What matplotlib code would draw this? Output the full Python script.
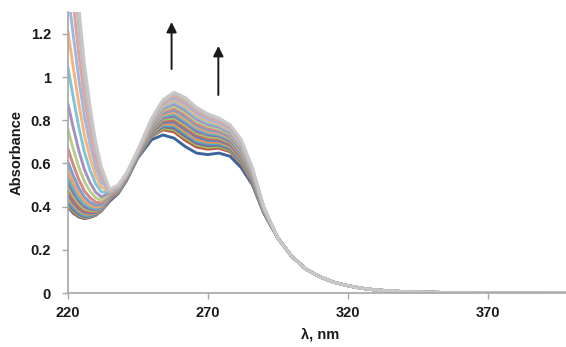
import matplotlib
matplotlib.use("Agg")
import matplotlib.pyplot as plt
import numpy as np

plt.rcParams["font.family"] = ["Liberation Sans", "DejaVu Sans"]

# Wavelength grid (nm) for the region where the spectra differ
wl_main = [220, 222, 224, 226, 228, 230, 232, 235, 238, 241, 245, 250,
           254, 258, 262, 266, 270, 274, 278, 282, 286, 290]
# Long-wavelength tail, common to every spectrum
wl_tail = [295, 300, 305, 310, 315, 320, 325, 330, 340, 350, 360, 400]
abs_tail = [0.255, 0.17, 0.112, 0.075, 0.05, 0.034, 0.022, 0.014,
            0.006, 0.003, 0.0015, 0.0]

# One row per recorded spectrum, first (lowest) to last (highest)
spectra = [
    [0.400, 0.370, 0.352, 0.345, 0.350, 0.360, 0.380, 0.425, 0.460, 0.520, 0.625, 0.710, 0.732, 0.717, 0.678, 0.648, 0.641, 0.648, 0.633, 0.580, 0.500, 0.370],
    [0.405, 0.374, 0.355, 0.347, 0.352, 0.361, 0.381, 0.431, 0.464, 0.524, 0.629, 0.725, 0.756, 0.746, 0.707, 0.676, 0.666, 0.671, 0.654, 0.598, 0.508, 0.373],
    [0.411, 0.379, 0.359, 0.350, 0.354, 0.362, 0.381, 0.433, 0.466, 0.525, 0.630, 0.729, 0.762, 0.755, 0.717, 0.685, 0.674, 0.678, 0.660, 0.603, 0.512, 0.374],
    [0.420, 0.386, 0.365, 0.354, 0.357, 0.364, 0.383, 0.435, 0.468, 0.527, 0.632, 0.733, 0.770, 0.764, 0.727, 0.694, 0.683, 0.685, 0.667, 0.609, 0.515, 0.376],
    [0.430, 0.395, 0.371, 0.359, 0.360, 0.367, 0.384, 0.438, 0.469, 0.528, 0.633, 0.737, 0.776, 0.773, 0.737, 0.703, 0.691, 0.691, 0.673, 0.614, 0.519, 0.377],
    [0.446, 0.408, 0.381, 0.367, 0.365, 0.370, 0.386, 0.440, 0.471, 0.530, 0.635, 0.742, 0.783, 0.782, 0.747, 0.712, 0.699, 0.698, 0.679, 0.620, 0.522, 0.378],
    [0.459, 0.419, 0.390, 0.373, 0.370, 0.373, 0.388, 0.443, 0.473, 0.531, 0.636, 0.746, 0.790, 0.792, 0.757, 0.722, 0.707, 0.705, 0.686, 0.626, 0.526, 0.380],
    [0.474, 0.431, 0.399, 0.380, 0.375, 0.377, 0.390, 0.445, 0.475, 0.533, 0.638, 0.750, 0.797, 0.801, 0.766, 0.731, 0.715, 0.712, 0.692, 0.631, 0.530, 0.381],
    [0.496, 0.449, 0.413, 0.390, 0.382, 0.381, 0.393, 0.448, 0.477, 0.535, 0.640, 0.754, 0.804, 0.810, 0.776, 0.740, 0.724, 0.719, 0.698, 0.637, 0.533, 0.383],
    [0.516, 0.465, 0.426, 0.399, 0.389, 0.386, 0.396, 0.450, 0.478, 0.536, 0.641, 0.759, 0.811, 0.819, 0.786, 0.749, 0.732, 0.726, 0.704, 0.643, 0.537, 0.384],
    [0.540, 0.485, 0.441, 0.411, 0.397, 0.391, 0.399, 0.453, 0.480, 0.538, 0.643, 0.763, 0.818, 0.829, 0.796, 0.759, 0.740, 0.733, 0.711, 0.648, 0.540, 0.385],
    [0.570, 0.510, 0.460, 0.425, 0.407, 0.398, 0.403, 0.455, 0.482, 0.539, 0.644, 0.767, 0.825, 0.838, 0.806, 0.768, 0.748, 0.740, 0.717, 0.654, 0.544, 0.387],
    [0.610, 0.543, 0.486, 0.444, 0.420, 0.407, 0.408, 0.458, 0.484, 0.541, 0.646, 0.772, 0.832, 0.847, 0.816, 0.777, 0.756, 0.747, 0.723, 0.659, 0.548, 0.388],
    [0.671, 0.593, 0.524, 0.472, 0.441, 0.421, 0.417, 0.460, 0.486, 0.542, 0.647, 0.776, 0.839, 0.856, 0.826, 0.786, 0.765, 0.754, 0.730, 0.665, 0.551, 0.389],
    [0.760, 0.666, 0.581, 0.515, 0.471, 0.441, 0.429, 0.463, 0.487, 0.544, 0.649, 0.780, 0.846, 0.865, 0.836, 0.795, 0.773, 0.761, 0.736, 0.671, 0.555, 0.391],
    [0.880, 0.765, 0.658, 0.571, 0.511, 0.467, 0.445, 0.465, 0.489, 0.546, 0.651, 0.784, 0.853, 0.875, 0.846, 0.805, 0.781, 0.768, 0.742, 0.676, 0.558, 0.392],
    [1.051, 0.905, 0.766, 0.651, 0.568, 0.506, 0.468, 0.468, 0.491, 0.547, 0.652, 0.789, 0.860, 0.884, 0.856, 0.814, 0.789, 0.775, 0.749, 0.682, 0.562, 0.393],
    [1.219, 1.044, 0.874, 0.730, 0.625, 0.543, 0.491, 0.470, 0.493, 0.549, 0.654, 0.793, 0.867, 0.893, 0.865, 0.823, 0.797, 0.782, 0.755, 0.688, 0.566, 0.395],
    [1.400, 1.193, 0.989, 0.816, 0.686, 0.584, 0.515, 0.473, 0.495, 0.550, 0.655, 0.797, 0.874, 0.902, 0.875, 0.832, 0.805, 0.789, 0.761, 0.693, 0.569, 0.396],
    [1.580, 1.340, 1.103, 0.900, 0.746, 0.624, 0.539, 0.475, 0.496, 0.552, 0.657, 0.802, 0.881, 0.912, 0.885, 0.842, 0.814, 0.796, 0.767, 0.699, 0.573, 0.397],
    [1.760, 1.489, 1.218, 0.985, 0.807, 0.664, 0.564, 0.478, 0.498, 0.553, 0.658, 0.806, 0.888, 0.921, 0.895, 0.851, 0.822, 0.803, 0.774, 0.704, 0.576, 0.399],
    [1.920, 1.620, 1.320, 1.060, 0.860, 0.700, 0.585, 0.480, 0.500, 0.555, 0.660, 0.810, 0.895, 0.930, 0.905, 0.860, 0.830, 0.810, 0.780, 0.710, 0.580, 0.400],
]

colors = [
    "#3A64A0", "#C0504D", "#9BBB59", "#8064A2", "#4BACC6", "#F79646",
    "#5B87C2", "#C96A67", "#A7C46C", "#8E75AE", "#5EB6CD", "#F6A25F",
    "#7B9ED0", "#D58785", "#B7CF88", "#A591C0", "#7FC5D7", "#F8B47E",
    "#9DB9DE", "#E0A3A2", "#BEBEBE", "#C8C8C8",
]

fig = plt.figure(figsize=(5.66, 3.47), dpi=100)
ax = fig.add_axes([0.1196, 0.1556, 0.8905, 0.809])

wl = np.array(wl_main + wl_tail)
for row, col in zip(spectra, colors):
    ax.plot(wl, row + abs_tail, color=col, lw=2.1, solid_capstyle="round")

# arrows showing the growth of both bands
for x, y0, y1 in [(257.1, 1.037, 1.255), (273.8, 0.917, 1.144)]:
    ax.annotate("", xy=(x, y1), xytext=(x, y0),
                arrowprops=dict(arrowstyle="-|>", color="#1a1a1a", lw=1.4,
                                mutation_scale=15, shrinkA=0, shrinkB=0))

ax.set_xlim(220, 400)
ax.set_ylim(0, 1.3)
ax.set_xticks([220, 270, 320, 370])
ax.set_yticks([0, 0.2, 0.4, 0.6, 0.8, 1.0, 1.2])
ax.set_yticklabels(["0", "0.2", "0.4", "0.6", "0.8", "1", "1.2"])

for side in ("top", "right"):
    ax.spines[side].set_visible(False)
for side in ("left", "bottom"):
    ax.spines[side].set_color("#a6a6a6")
    ax.spines[side].set_linewidth(1.2)

ax.tick_params(colors="#a6a6a6", length=4, width=1.0, labelcolor="#1a1a1a",
               labelsize=10.5)
ax.tick_params(axis="y", pad=8)
ax.tick_params(axis="x", pad=5)
for lab in ax.get_xticklabels() + ax.get_yticklabels():
    lab.set_fontweight("bold")

ax.set_xlabel("λ, nm", fontsize=10.5, fontweight="bold", color="#1a1a1a",
              labelpad=6)
ax.set_ylabel("Absorbance", fontsize=10.5, fontweight="bold", color="#1a1a1a",
              labelpad=5)

fig.savefig("out.png", dpi=100, facecolor="white")
